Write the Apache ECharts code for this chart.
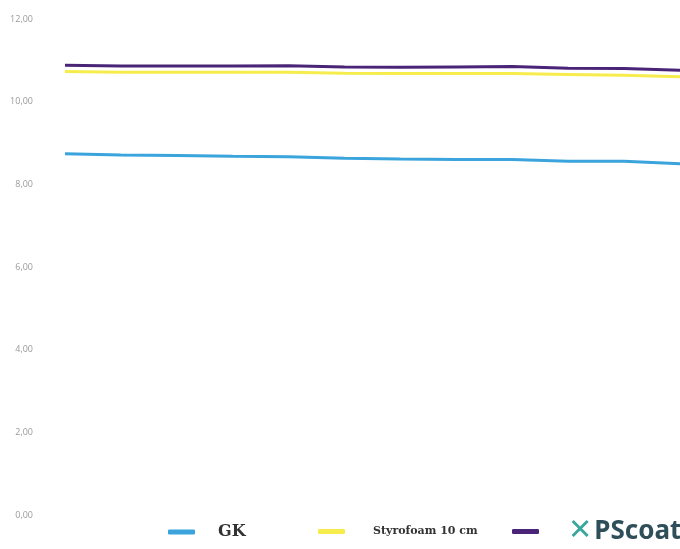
<!DOCTYPE html>
<html>
<head>
<meta charset="utf-8">
<script src="https://cdn.jsdelivr.net/npm/echarts@6/dist/echarts.min.js"></script>
<style>
html, body { margin: 0; padding: 0; background: #fff; }
#chart { width: 680px; height: 549px; }
</style>
</head>
<body>
<div id="chart"></div>
<script>
var categories = ['1', '2', '3', '4', '5', '6', '7', '8', '9', '10', '11', '12'];
var gkData = [8.74, 8.71, 8.70, 8.68, 8.67, 8.63, 8.61, 8.60, 8.60, 8.56, 8.56, 8.50];
var styroData = [10.73, 10.71, 10.71, 10.71, 10.71, 10.69, 10.68, 10.68, 10.68, 10.66, 10.64, 10.60];
var pscoatData = [10.88, 10.86, 10.86, 10.86, 10.87, 10.84, 10.83, 10.84, 10.85, 10.81, 10.80, 10.76];
var yTicks = [0, 2, 4, 6, 8, 10, 12];

var myChart = echarts.init(document.getElementById('chart'));

function legendBox(name, left, top, textStyle, formatter) {
    return {
        data: [name],
        left: left,
        top: top,
        icon: 'roundRect',
        itemWidth: 27,
        itemHeight: 5,
        selectedMode: false,
        formatter: formatter,
        textStyle: textStyle
    };
}

var option = {
    backgroundColor: '#fff',
    animation: false,
    color: ['#3ba4dc', '#f6ec4c', '#4a2577'],
    grid: { left: 65, right: 0, top: 19, bottom: 34 },
    legend: [
        legendBox('GK', 163, 519, {
            fontFamily: 'DejaVu Serif', fontWeight: 'bold', fontSize: 16,
            color: '#333', padding: [0, 0, 0, 18]
        }),
        legendBox('Styrofoam 10 cm', 313, 521, {
            fontFamily: 'DejaVu Serif', fontWeight: 'bold', fontSize: 11,
            color: '#333', padding: [0, 0, 0, 23]
        }),
        legendBox('PScoat', 507, 512, {
            padding: [0, 0, 0, 24],
            rich: {
                x: { fontFamily: 'DejaVu Sans', fontSize: 29, color: '#3aa69c', padding: [0, 2, 0, 0] },
                p: { fontFamily: 'Noto Sans', fontWeight: 'bold', fontSize: 26, color: '#2e4f5a' }
            }
        }, function () { return '{x|✕}{p|PScoat}'; })
    ],
    xAxis: {
        type: 'category',
        data: categories,
        boundaryGap: false,
        axisLine: { show: false },
        axisTick: { show: false },
        axisLabel: { show: false },
        splitLine: { show: false }
    },
    yAxis: {
        type: 'value',
        min: yTicks[0],
        max: yTicks[yTicks.length - 1],
        interval: 2,
        axisLine: { show: false },
        axisTick: { show: false },
        splitLine: { show: false },
        axisLabel: {
            margin: 32,
            color: '#9a9a9a',
            fontSize: 9,
            fontFamily: 'Open Sans',
            formatter: function (v) { return v.toFixed(2).replace('.', ','); }
        }
    },
    series: [
        { name: 'GK', type: 'line', data: gkData, showSymbol: false, lineStyle: { width: 3 } },
        { name: 'Styrofoam 10 cm', type: 'line', data: styroData, showSymbol: false, lineStyle: { width: 3 } },
        { name: 'PScoat', type: 'line', data: pscoatData, showSymbol: false, lineStyle: { width: 3 } }
    ]
};
myChart.setOption(option);
</script>
</body>
</html>
